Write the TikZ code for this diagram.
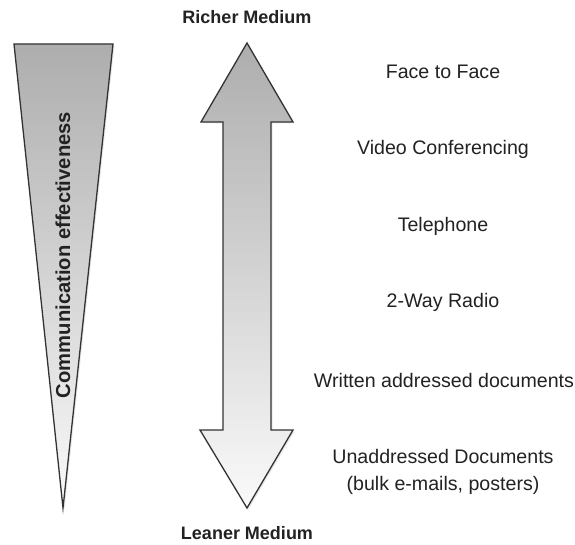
\documentclass[tikz,border=0pt]{standalone}
\usepackage{fontspec}
\setmainfont{Liberation Sans}
\usetikzlibrary{shadows}
\definecolor{edge}{HTML}{333333}
\definecolor{txt}{HTML}{222222}
\begin{document}
\begin{tikzpicture}[x=1pt,y=-1pt,
  greyform/.style={draw=edge,line width=1.3pt,line join=miter,
    top color=black!32,bottom color=black!2,
    drop shadow={opacity=0.18,shadow xshift=1.5pt,shadow yshift=-1.5pt}},
  item/.style={text=txt,inner sep=0pt,font=\fontsize{19.6}{27}\selectfont,align=center},
  ends/.style={text=txt,inner sep=0pt,font=\fontsize{18}{21}\selectfont\bfseries}]
\useasboundingbox[fill=white] (0,0) rectangle (575,545);
% triangle
\path[greyform] (14,44) -- (113,44) -- (63,508) -- cycle;
\node[text=txt,inner sep=0pt,rotate=90,font=\fontsize{20.2}{22}\selectfont\bfseries] (eff) at (63,255) {Communication effectiveness};
% double arrow
\path[greyform] (247,43) -- (293,122) -- (271,122) -- (271,430) -- (293,430) -- (247,508)
  -- (200,430) -- (223,430) -- (223,122) -- (201,122) -- cycle;
\node[ends] (rich) at (247,17) {Richer Medium};
\node[ends] (lean) at (247,533) {Leaner Medium};
% media
\node[item] (f2f) at (443,72) {Face to Face};
\node[item] (vc) at (443,149) {Video Conferencing};
\node[item] (tel) at (443,226) {Telephone};
\node[item] (radio) at (443,302) {2-Way Radio};
\node[item] (writ) at (444,380) {Written addressed documents};
\node[item] (unad) at (443,472) {Unaddressed Documents\\(bulk e-mails, posters)};
\end{tikzpicture}
\end{document}
